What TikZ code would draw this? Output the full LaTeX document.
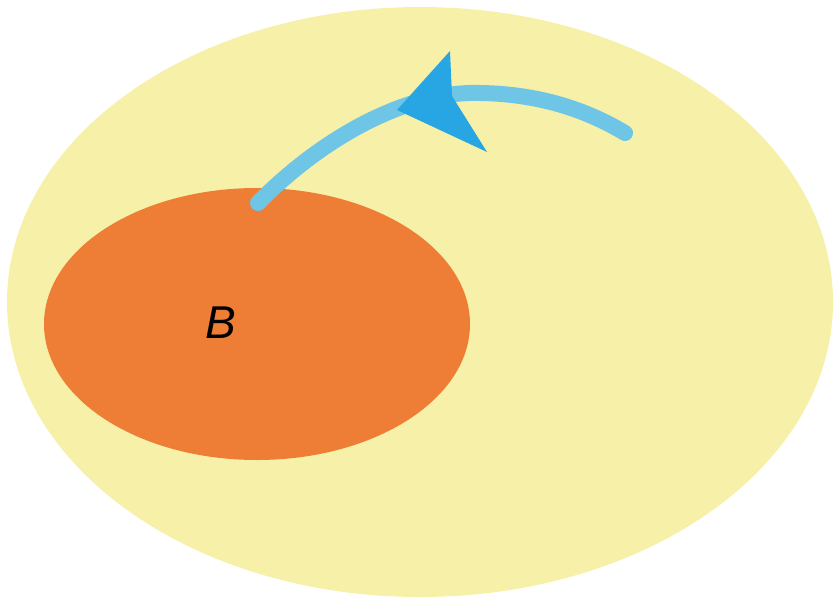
\documentclass[tikz,border=0pt]{standalone}
\usepackage{fontspec}
\setmainfont{Liberation Sans}
\begin{document}
\definecolor{setyellow}{HTML}{F6F0A8}
\definecolor{setorange}{HTML}{EE7E36}
\definecolor{pathblue}{HTML}{6EC5E6}
\definecolor{tipblue}{HTML}{27A6E3}
\begin{tikzpicture}[x=1pt,y=-1pt,
  region/.style={draw=none},
  flow/.style={draw=pathblue,line width=16pt,line cap=round},
  headfill/.style={fill=tipblue,draw=none}]
  \useasboundingbox (0,0) rectangle (838,602);
  % universe and subset B
  \fill[setyellow,region] (420,302) ellipse [x radius=413, y radius=295];
  \fill[setorange,region] (257,324) ellipse [x radius=213, y radius=136];
  \node (B) at (221,323) {\fontsize{46}{46}\selectfont\itshape B};
  % curved path leaving B
  \coordinate (start) at (258,203);
  \coordinate (mid) at (470,93);
  \coordinate (stop) at (625,133);
  \draw[flow] (start) .. controls (320,140) and (400,95) .. (mid)
              .. controls (540,92) and (590,112) .. (stop);
  % arrowhead on the path
  \coordinate (tip) at (397,110);
  \coordinate (barbA) at (450,51);
  \coordinate (notch) at (452,96);
  \coordinate (barbB) at (487,152);
  \fill[headfill] (tip) -- (barbA) -- (notch) -- (barbB) -- cycle;
\end{tikzpicture}
\end{document}
